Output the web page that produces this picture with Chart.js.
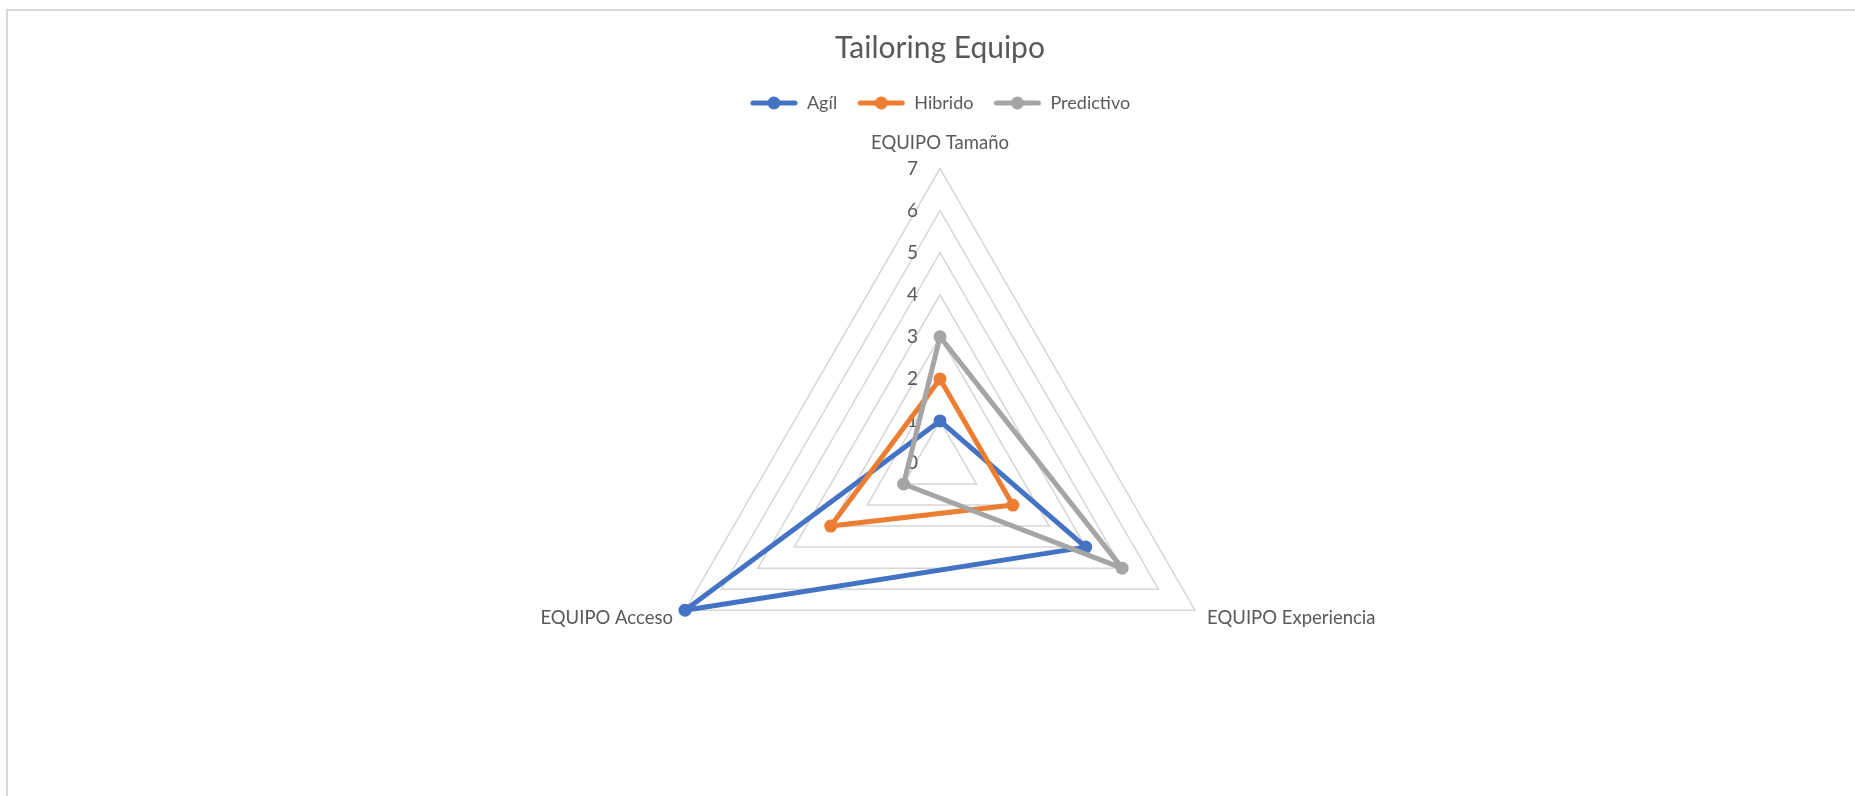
<!DOCTYPE html>
<html>
<head>
<meta charset="utf-8">
<title>Tailoring Equipo</title>
<script src="https://cdn.jsdelivr.net/npm/chart.js@4.4.1/dist/chart.umd.min.js"></script>
<style>
  html, body { margin: 0; padding: 0; background: #fff; overflow: hidden; }
  .frame {
    position: absolute; left: 6px; top: 9px; width: 1900px; height: 900px;
    border-top: 2px solid #d9d9d9; border-left: 2px solid #d9d9d9;
  }
  #myChart { position: absolute; left: 0; top: 0; }
</style>
</head>
<body>
<div class="frame"></div>
<canvas id="myChart" width="1855" height="796"></canvas>
<script>
const categories = ['EQUIPO Tamaño', 'EQUIPO Experiencia', 'EQUIPO Acceso'];
const seriesNames = ['Agíl', 'Hibrido', 'Predictivo'];
const agilValues = [1, 4, 7];
const hibridoValues = [2, 2, 3];
const predictivoValues = [3, 5, 1];
const seriesColors = ['#4472C4', '#ED7D31', '#A5A5A5'];
const scaleMin = 0;
const scaleMax = 7;

const fontFamily = 'Lato';
const textColor = '#595959';

// little line+dot swatch for the legend, like the office legend
function legendSwatch(color) {
  const c = document.createElement('canvas');
  c.width = 48;
  c.height = 14;
  const g = c.getContext('2d');
  g.strokeStyle = color;
  g.lineWidth = 5;
  g.lineCap = 'round';
  g.beginPath();
  g.moveTo(3, 7);
  g.lineTo(45, 7);
  g.stroke();
  g.fillStyle = color;
  g.beginPath();
  g.arc(24, 7, 6.5, 0, Math.PI * 2);
  g.fill();
  return c;
}

// tick numbers sit left of the vertical axis
const tickLabels = {
  id: 'tickLabels',
  beforeDatasetsDraw(chart) {
    const s = chart.scales.r;
    const ctx = chart.ctx;
    ctx.save();
    ctx.font = '19px ' + fontFamily;
    ctx.fillStyle = textColor;
    ctx.textAlign = 'right';
    ctx.textBaseline = 'middle';
    s.ticks.forEach(t => {
      const d = s.getDistanceFromCenterForValue(t.value);
      ctx.fillText(t.label, s.xCenter - 22, s.yCenter - d);
    });
    ctx.restore();
  }
};

const values = [agilValues, hibridoValues, predictivoValues];

const ctx = document.getElementById('myChart');

let myChart = new Chart(ctx, {
  type: 'radar',
  data: {
    labels: categories,
    datasets: seriesNames.map((name, i) => ({
      label: name,
      data: values[i],
      order: 2 - i,
      fill: false,
      borderColor: seriesColors[i],
      backgroundColor: seriesColors[i],
      borderWidth: 5,
      borderJoinStyle: 'round',
      pointRadius: 6.5,
      pointBorderWidth: 0,
      pointBackgroundColor: seriesColors[i],
      pointHoverRadius: 6.5
    }))
  },
  options: {
    responsive: false,
    animation: false,
    layout: {
      padding: { top: 10, left: 25, right: 0, bottom: 22 }
    },
    scales: {
      r: {
        min: scaleMin,
        max: scaleMax,
        angleLines: { display: false },
        grid: { color: '#d6d6d6', lineWidth: 1.5 },
        ticks: { display: false, stepSize: 1 },
        pointLabels: {
          color: textColor,
          padding: (c) => c.index === 0 ? 20.5 : 14,
          font: (c) => ({
            family: fontFamily,
            size: 18.5,
            lineHeight: c.index === 0 ? 0.6 : 0.1
          })
        }
      }
    },
    plugins: {
      title: {
        display: true,
        text: 'Tailoring Equipo',
        color: textColor,
        font: { family: fontFamily, size: 30, weight: 'normal' },
        padding: { top: 20, bottom: 8 }
      },
      legend: {
        position: 'top',
        labels: {
          color: textColor,
          font: { family: fontFamily, size: 18 },
          usePointStyle: true,
          pointStyleWidth: 48,
          padding: 20,
          generateLabels: (chart) => chart.data.datasets.map((ds, i) => ({
            text: ds.label,
            fillStyle: ds.borderColor,
            strokeStyle: ds.borderColor,
            fontColor: textColor,
            lineWidth: 0,
            pointStyle: legendSwatch(ds.borderColor),
            datasetIndex: i,
            hidden: false
          }))
        }
      },
      tooltip: { enabled: false }
    }
  },
  plugins: [tickLabels]
});
</script>
</body>
</html>
